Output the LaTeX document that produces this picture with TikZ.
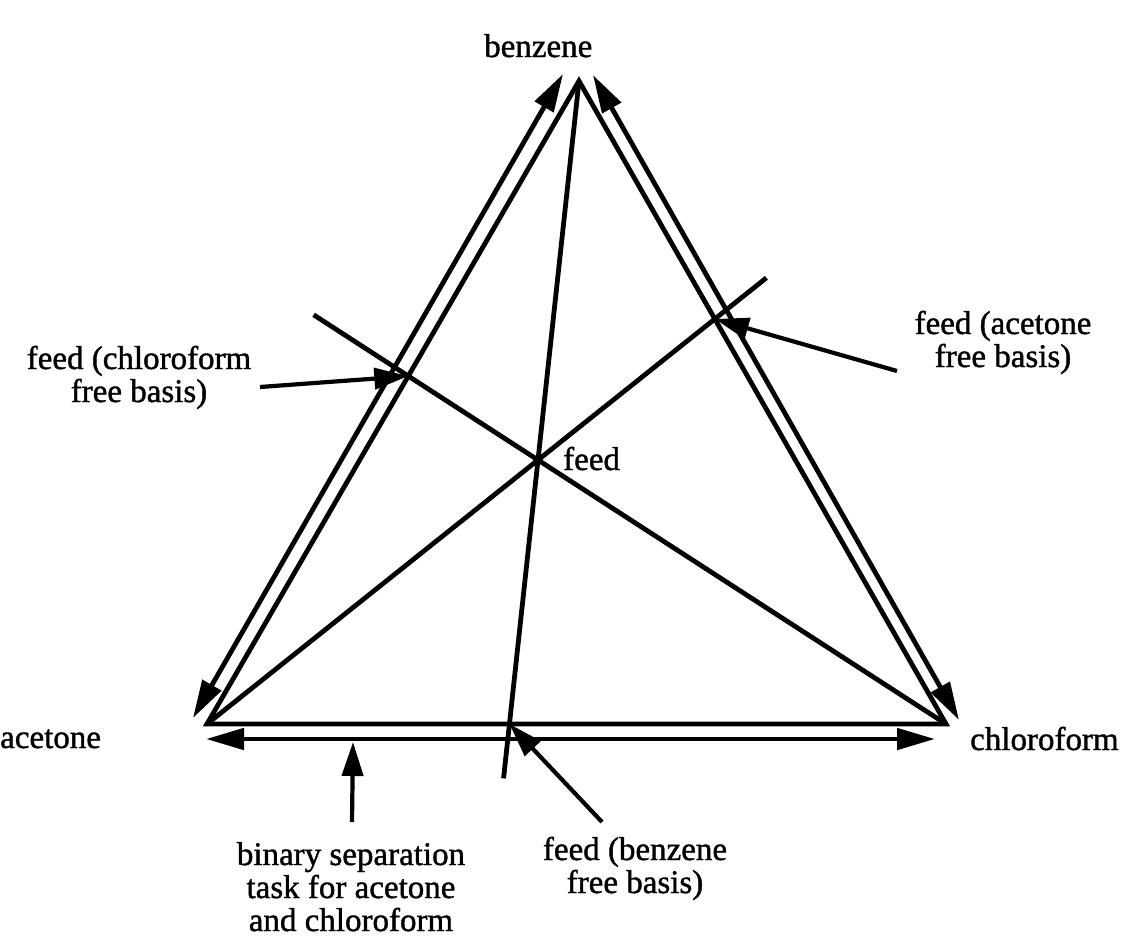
\documentclass[tikz,border=0pt]{standalone}
\usepackage{fontspec}
\setmainfont{Liberation Serif}[FakeBold=1.2]
\usetikzlibrary{arrows.meta,calc}
\begin{document}
\begin{tikzpicture}[x=1pt,y=-1pt,
  edge/.style={line width=4.8pt, line join=miter},
  dbl/.style={line width=4.8pt,{Triangle[length=38pt,width=21pt]}-{Triangle[length=38pt,width=21pt]}},
  ptr/.style={line width=4.2pt,-{Triangle[length=34pt,width=21pt]}},
  lbl/.style={font=\fontsize{33}{33}\selectfont, inner sep=0pt, align=center}]
\useasboundingbox (0,0) rectangle (1140,945);
% vertices and feed
\coordinate (A) at (207,724);
\coordinate (B) at (579,81);
\coordinate (C) at (946,724);
\coordinate (F) at (538,460);
\coordinate (EA) at ($(A)!1.69!(F)$);
\coordinate (EC) at ($(C)!1.55!(F)$);
\coordinate (EB) at ($(B)!1.84!(F)$);
% free-basis points
\coordinate (PA) at (intersection of A--F and B--C);
\coordinate (PC) at (intersection of C--F and A--B);
\coordinate (PB) at (intersection of B--F and A--C);
% triangle and lines through feed
\draw[edge] (A) -- (B) -- (C) -- cycle;
\draw[edge] (A) -- (EA);
\draw[edge] (C) -- (EC);
\draw[edge] (B) -- (EB);
\fill (F) circle (5pt);
% outer double arrows
\coordinate (L1) at (193,718);
\coordinate (L2) at (563,74);
\coordinate (R1) at (593,75);
\coordinate (R2) at (959,720);
\coordinate (D1) at (206,739);
\coordinate (D2) at (935,739);
\draw[dbl] (L1) -- (L2);
\draw[dbl] (R1) -- (R2);
\draw[dbl] (D1) -- (D2);
% labels
\node[lbl, anchor=base west] (benz) at (484,57) {benzene};
\node[lbl, anchor=base west] (acet) at (0,748) {acetone};
\node[lbl, anchor=base west] (chlo) at (970,750) {chloroform};
\node[lbl, anchor=base west] (feed) at (563,470) {feed};
\node[lbl, anchor=base] (lc) at (139,402) {feed (chloroform\\free basis)};
\node[lbl, anchor=base] (la) at (1003,367) {feed (acetone\\free basis)};
\node[lbl, anchor=base] (lb) at (635,893) {feed (benzene\\free basis)};
\node[lbl, anchor=base] (lbin) at (351,931) {binary separation\\task for acetone\\and chloroform};
% pointer arrows
\coordinate (TC) at (260,387);
\coordinate (TA) at (897,371);
\coordinate (TB) at (602,822);
\coordinate (TD) at (352,822);
\coordinate (HD) at (353,742);
\draw[ptr] (TC) -- (PC);
\draw[ptr] (TA) -- (PA);
\draw[ptr] (TB) -- (PB);
\draw[ptr] (TD) -- (HD);
\end{tikzpicture}
\end{document}
